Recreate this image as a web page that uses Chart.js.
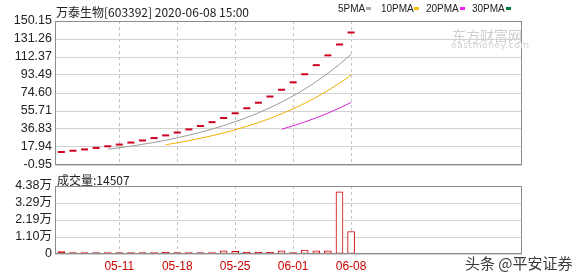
<!DOCTYPE html>
<html>
<head>
<meta charset="utf-8">
<script src="https://cdn.jsdelivr.net/npm/chart.js@4.4.0/dist/chart.umd.min.js"></script>
<style>
body { margin: 0; background: #fff; }
#wrap { position: relative; width: 578px; height: 276px; overflow: hidden; }
canvas { position: absolute; left: 0; }
.t { position: absolute; white-space: nowrap; line-height: 1; }
.sq { position: absolute; width: 5px; height: 3px; }
</style>
</head>
<body>
<div id="wrap">
  <canvas id="kline" width="578" height="176" style="top:0"></canvas>
  <canvas id="vol" width="578" height="106" style="top:170px"></canvas>

  <div class="t" style="left:56px;top:3px;font:12px 'Noto Sans CJK SC';color:#222">万泰生物[603392] 2020-06-08 15:00</div>

  <div class="t" style="left:338px;top:3px;font:10px 'Liberation Sans';color:#222">5PMA</div>
  <div class="sq" style="left:366px;top:7px;background:#aaaaaa"></div>
  <div class="t" style="left:381px;top:3px;font:10px 'Liberation Sans';color:#222">10PMA</div>
  <div class="sq" style="left:414px;top:7px;background:#f5c000"></div>
  <div class="t" style="left:426px;top:3px;font:10px 'Liberation Sans';color:#222">20PMA</div>
  <div class="sq" style="left:460px;top:7px;background:#ee22ee"></div>
  <div class="t" style="left:472px;top:3px;font:10px 'Liberation Sans';color:#222">30PMA</div>
  <div class="sq" style="left:506px;top:7px;background:#007a3d"></div>

  <div class="t" style="left:452px;top:25px;font:14px 'Noto Sans CJK SC';color:#cfcfcf">东方财富网</div>
  <div class="t" style="left:451px;top:40px;font:9px 'DejaVu Sans';letter-spacing:0.6px;color:#cfcfcf">eastmoney.com</div>

  <div class="t" style="left:57px;top:171px;font:12px 'Noto Sans CJK SC';color:#222">成交量:14507</div>

  <div class="t" style="left:465px;top:252px;font:15px 'Noto Sans CJK SC';color:#3a3a3a;text-shadow:0 0 2px #fff,0 0 2px #fff">头条 @平安证券</div>
</div>

<script>
// 交易日
var dates = ['04-29', '04-30', '05-06', '05-07', '05-08', '05-11', '05-12', '05-13', '05-14', '05-15',
  '05-18', '05-19', '05-20', '05-21', '05-22', '05-25', '05-26', '05-27', '05-28', '05-29',
  '06-01', '06-02', '06-03', '06-04', '06-05', '06-08'];

// 一字板收盘价
var closePrice = [12.7, 14.0, 15.4, 17.0, 18.7, 20.5, 22.6, 24.8, 27.3, 30.1,
  33.1, 36.4, 40.0, 44.0, 48.4, 53.3, 58.6, 64.4, 70.9, 78.0,
  85.8, 94.3, 103.8, 114.1, 125.5, 138.1];

var ma5 = [null, null, null, null, 15.56, 17.12, 18.84, 20.72, 22.78, 25.06,
  27.58, 30.34, 33.38, 36.72, 40.38, 44.42, 48.86, 53.74, 59.12, 65.04,
  71.54, 78.68, 86.56, 95.20, 104.70, 115.16];
var ma10 = [null, null, null, null, null, null, null, null, null, 20.31,
  22.35, 24.59, 27.05, 29.75, 32.72, 36.00, 39.60, 43.56, 47.92, 52.71,
  57.98, 63.77, 70.15, 77.16, 84.87, 93.35];
var ma20 = [null, null, null, null, null, null, null, null, null, null,
  null, null, null, null, null, null, null, null, null, 36.51,
  40.17, 44.18, 48.60, 53.46, 58.80, 64.68];

// 成交量(手)
var volume = [1500, 900, 900, 900, 900, 900, 900, 900, 900, 1200,
  900, 900, 900, 850, 2100, 1800, 1200, 1200, 1200, 2100,
  850, 2500, 2000, 2000, 40000, 14507];
var hollowBars = [14, 15, 19, 21, 22, 23, 24, 25];

var xTickLabels = ['05-11', '05-18', '05-25', '06-01', '06-08'];
var priceTicks = [-0.95, 17.94, 36.83, 55.71, 74.60, 93.49, 112.37, 131.26, 150.15];
var volTicks = [0, 10950, 21900, 32850, 43800];
var volTickLabels = ['0', '1.10万', '2.19万', '3.29万', '4.38万'];

var RED = '#cc0022';

var frame = {
  id: 'frame',
  afterDraw: function(chart) {
    var a = chart.chartArea, ctx = chart.ctx;
    ctx.save();
    ctx.strokeStyle = '#8c8c8c';
    ctx.lineWidth = 1;
    ctx.strokeRect(Math.round(a.left) + 0.5, Math.round(a.top) + 0.5,
      Math.round(a.right - a.left) - 1, Math.round(a.bottom - a.top) - 1);
    ctx.restore();
  }
};

function pts(arr) {
  return arr.map(function(v, i) { return { x: i, y: v }; });
}

function xTicks(scale) {
  scale.ticks = xTickLabels.map(function(l) { return { value: dates.indexOf(l) }; });
}

function xScale(showLabels) {
  return {
    type: 'linear',
    min: -0.55,
    max: 39.75,
    offset: false,
    afterBuildTicks: xTicks,
    afterFit: function(s) { s.height = showLabels ? 16 : 0; },
    grid: { color: '#c4c4c4', drawTicks: false, offset: false },
    border: { display: false, dash: [3, 3] },
    ticks: {
      display: showLabels,
      autoSkip: false,
      maxRotation: 0,
      padding: 5,
      color: '#cc0000',
      font: { family: 'Liberation Sans', size: 12 },
      callback: function(v) { return dates[v]; }
    }
  };
}

var priceChart = new Chart(document.getElementById('kline').getContext('2d'), {
  type: 'line',
  data: {
    datasets: [
      { label: '5PMA', data: pts(ma5), borderColor: '#9a9a9a', borderWidth: 1, pointRadius: 0 },
      { label: '10PMA', data: pts(ma10), borderColor: '#f0b000', borderWidth: 1, pointRadius: 0 },
      { label: '20PMA', data: pts(ma20), borderColor: '#d622d6', borderWidth: 1, pointRadius: 0 },
      {
        label: 'K', data: pts(closePrice), showLine: false,
        pointStyle: 'line', pointRadius: 3.5, pointBorderWidth: 2,
        borderColor: RED, pointBorderColor: RED
      }
    ]
  },
  options: {
    responsive: false,
    animation: false,
    devicePixelRatio: 1,
    layout: { padding: { top: 21, right: 56, bottom: 11, left: 0 } },
    plugins: { legend: { display: false }, tooltip: { enabled: false } },
    scales: {
      x: xScale(false),
      y: {
        min: -0.95,
        max: 150.15,
        afterBuildTicks: function(s) { s.ticks = priceTicks.map(function(v) { return { value: v }; }); },
        afterFit: function(s) { s.width = 55; },
        grid: { color: '#d2d2d2', drawTicks: false },
        border: { display: false },
        ticks: {
          autoSkip: false,
          padding: 3,
          color: '#222',
          font: { family: 'Liberation Sans', size: 12.5 },
          callback: function(v) { return v.toFixed(2); }
        }
      }
    }
  },
  plugins: [frame]
});

var volChart = new Chart(document.getElementById('vol').getContext('2d'), {
  type: 'bar',
  data: {
    datasets: [{
      label: '成交量',
      data: pts(volume),
      barThickness: 7,
      borderWidth: 1,
      borderSkipped: false,
      borderColor: '#cc0000',
      backgroundColor: volume.map(function(v, i) { return hollowBars.indexOf(i) >= 0 ? '#ffffff' : '#cc0000'; })
    }]
  },
  options: {
    responsive: false,
    animation: false,
    devicePixelRatio: 1,
    layout: { padding: { top: 16, right: 56, bottom: 6, left: 0 } },
    plugins: { legend: { display: false }, tooltip: { enabled: false } },
    scales: {
      x: xScale(true),
      y: {
        min: 0,
        max: 43800,
        afterBuildTicks: function(s) { s.ticks = volTicks.map(function(v) { return { value: v }; }); },
        afterFit: function(s) { s.width = 55; },
        grid: { color: '#d2d2d2', drawTicks: false },
        border: { display: false },
        ticks: {
          autoSkip: false,
          padding: 3,
          color: '#222',
          font: { family: "'Liberation Sans', 'Noto Sans CJK SC'", size: 12.5 },
          callback: function(v, i) { return volTickLabels[volTicks.indexOf(v)]; }
        }
      }
    }
  },
  plugins: [frame]
});
</script>
</body>
</html>
